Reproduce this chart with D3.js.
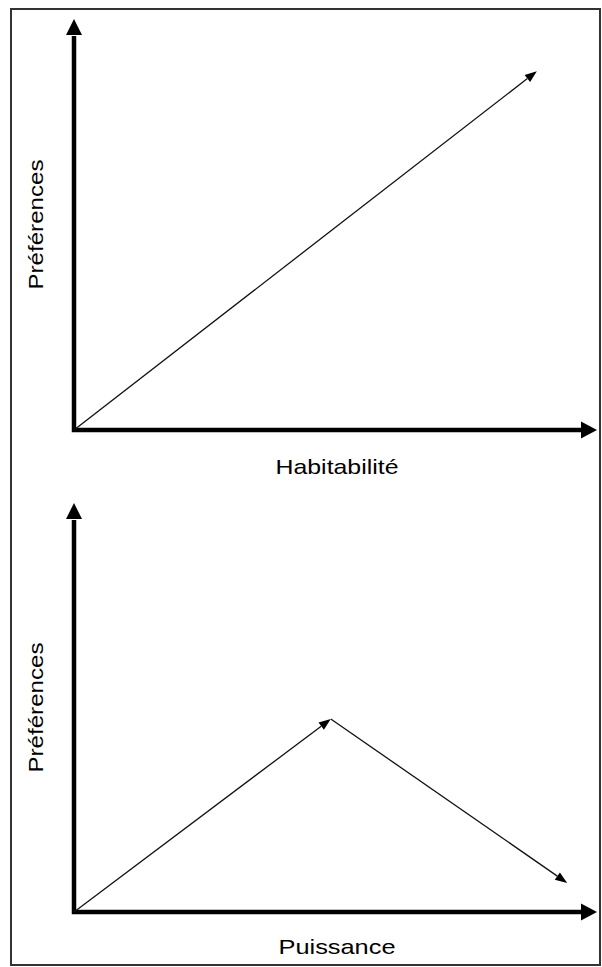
<!DOCTYPE html>
<html>
<head>
<meta charset="utf-8">
<script src="https://cdn.jsdelivr.net/npm/d3@7"></script>
<style>
  body { margin: 0; background: #fff; }
  text { font-family: "Liberation Sans", Arial, sans-serif; fill: #000; }
</style>
</head>
<body>
<script>
const width = 602, height = 967;

// panels: axis labels and the arrow path (in 0-100 units)
const panelNames = ["habitabilite", "puissance"];
const xLabels = ["Habitabilité", "Puissance"];
const yLabels = ["Préférences", "Préférences"];
const habitabilitePath = [[0, 0], [88.5, 87.3]];
const puissancePath = [[0, 0], [49.1, 47.2], [94.3, 7.1]];

const svg = d3.select("body").append("svg")
    .attr("width", width)
    .attr("height", height);

// frame
svg.append("rect")
    .attr("x", 11).attr("y", 9)
    .attr("width", 589).attr("height", 956)
    .attr("fill", "none")
    .attr("stroke", "#333")
    .attr("stroke-width", 2);

const panels = [
    { top: 19, bottom: 430, path: habitabilitePath, labelY: 474 },
    { top: 503, bottom: 912, path: puissancePath, labelY: 954 }
];

const x = d3.scaleLinear().domain([0, 100]).range([74, 597]);

function arrowHead(g, tip, from, len, half) {
    const dx = tip[0] - from[0], dy = tip[1] - from[1];
    const d = Math.hypot(dx, dy), ux = dx / d, uy = dy / d;
    const bx = tip[0] - ux * len, by = tip[1] - uy * len;
    g.append("path")
        .attr("d", `M${tip[0]},${tip[1]} L${bx - uy * half},${by + ux * half} L${bx + uy * half},${by - ux * half} Z`)
        .attr("fill", "#000");
    return [bx, by];
}

panels.forEach((p, i) => {
    const y = d3.scaleLinear().domain([0, 100]).range([p.bottom, p.top]);
    const g = svg.append("g").attr("class", panelNames[i]);
    const o = [x(0), y(0)];

    // axes with big arrowheads
    const yEnd = arrowHead(g, [x(0), y(100)], o, 16, 8);
    const xEnd = arrowHead(g, [x(100), y(0)], o, 16, 8.5);
    g.append("path")
        .attr("d", `M${yEnd[0]},${yEnd[1] + 1} L${o[0]},${o[1]} L${xEnd[0] + 1},${xEnd[1]}`)
        .attr("fill", "none")
        .attr("stroke", "#000")
        .attr("stroke-width", 4.5)
        .attr("stroke-linejoin", "miter");

    // thin arrow segments
    for (let k = 1; k < p.path.length; k++) {
        const a = [x(p.path[k - 1][0]), y(p.path[k - 1][1])];
        const b = [x(p.path[k][0]), y(p.path[k][1])];
        const base = arrowHead(g, b, a, 12, 4.5);
        g.append("line")
            .attr("x1", a[0]).attr("y1", a[1])
            .attr("x2", base[0]).attr("y2", base[1])
            .attr("stroke", "#111")
            .attr("stroke-width", 1.3);
    }

    // labels
    g.append("text")
        .attr("x", 337)
        .attr("y", p.labelY)
        .attr("text-anchor", "middle")
        .attr("font-size", 21)
        .attr("textLength", i === 0 ? 123 : 117)
        .attr("lengthAdjust", "spacingAndGlyphs")
        .text(xLabels[i]);

    const cy = (p.top + p.bottom) / 2;
    g.append("text")
        .attr("transform", `translate(43,${cy}) rotate(-90)`)
        .attr("text-anchor", "middle")
        .attr("font-size", 21)
        .attr("textLength", 130)
        .attr("lengthAdjust", "spacingAndGlyphs")
        .text(yLabels[i]);
});
</script>
</body>
</html>
